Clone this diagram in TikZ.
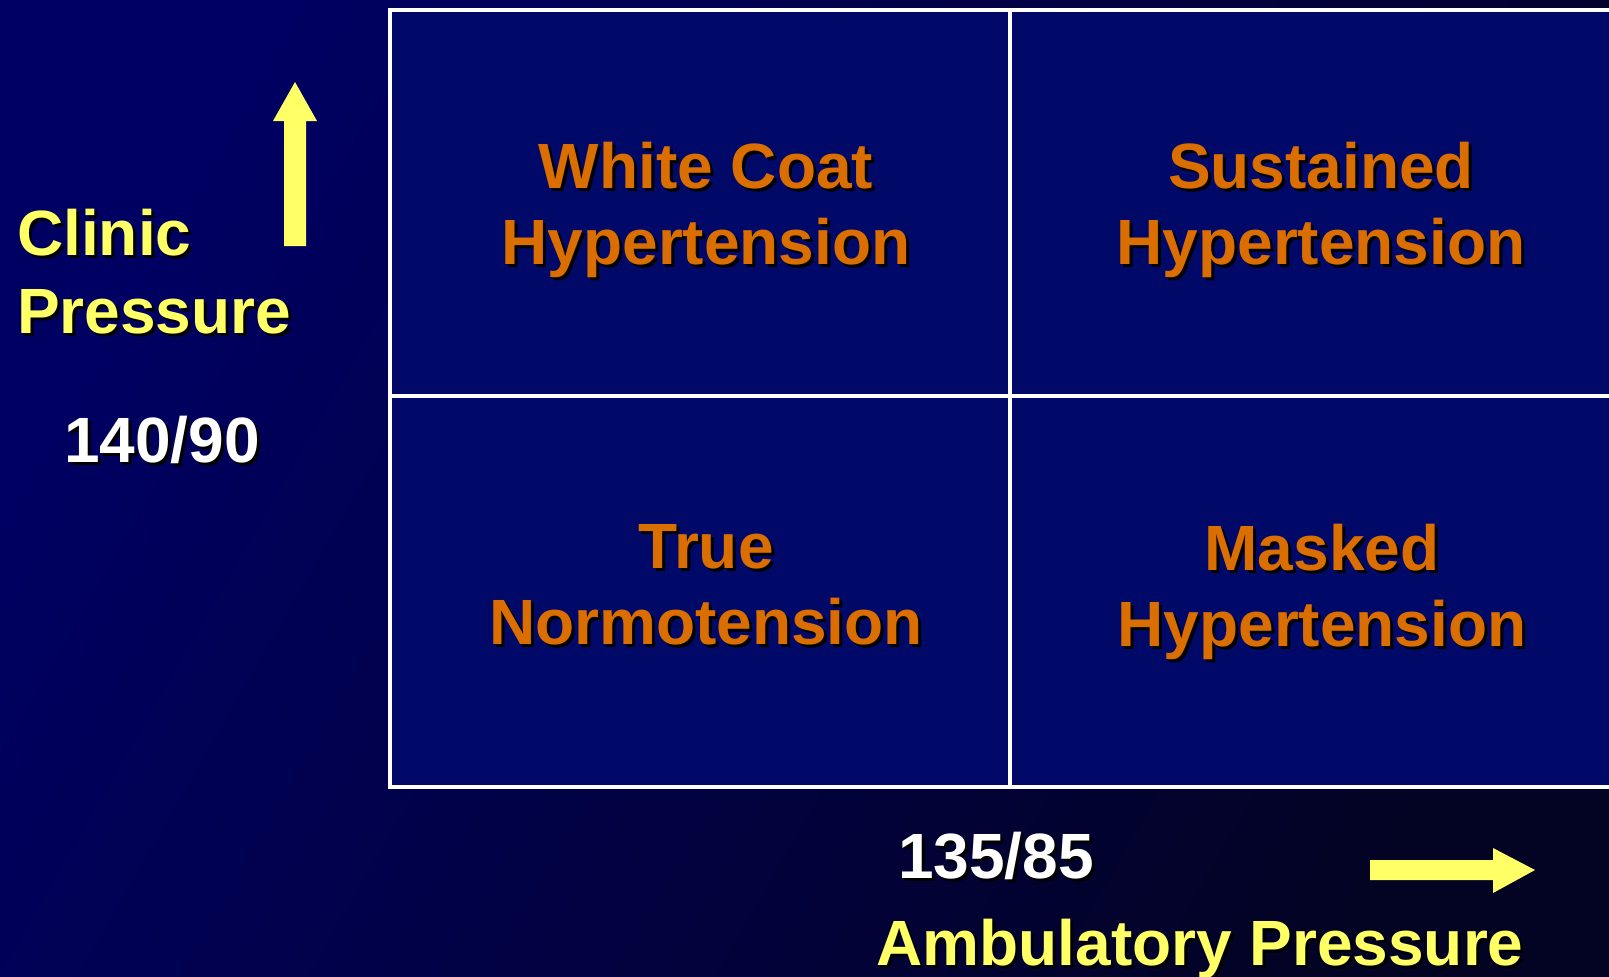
\documentclass[tikz,border=0pt]{standalone}
\usepackage{fontspec}
\setmainfont{Liberation Sans}

\definecolor{bgA}{RGB}{0,0,98}
\definecolor{bgB}{RGB}{3,3,36}
\definecolor{cellfill}{RGB}{0,8,104}
\definecolor{labelorange}{RGB}{218,110,0}
\definecolor{axisyellow}{RGB}{255,255,102}

% text with a small black drop shadow, one line at a time
\newcommand\shtext[1]{\makebox[0pt][l]{\kern3pt\raisebox{-3pt}{\color{black}#1}}#1}

\begin{document}
\begin{tikzpicture}[x=1pt,y=-1pt,
  bigfont/.style={font=\fontsize{64}{76}\selectfont\bfseries, inner sep=0pt},
  cell/.style={bigfont, text=labelorange, align=center, anchor=north},
  axislabel/.style={bigfont, text=axisyellow},
  threshold/.style={bigfont, text=white, anchor=base},
  gridline/.style={draw=white, line width=3.2pt},
  arrowshape/.style={fill=axisyellow}]

\useasboundingbox (0,0) rectangle (1609,977);
\begin{scope}
\clip (0,0) rectangle (1609,977);

% background
\shade[top color=bgA, bottom color=bgB, shading angle=60] (0,0) rectangle (1609,977);

% 2x2 grid
\coordinate (gtl) at (390,10);
\coordinate (gbr) at (1650,787);
\fill[cellfill] (gtl) rectangle (gbr);
\draw[gridline, line width=4pt] (gtl) rectangle (gbr);
\draw[gridline] (1010,10) -- (1010,787);
\draw[gridline] (390,396) -- (1650,396);
\end{scope}

% quadrant labels
\node[cell] (wch) at (706,142) {\shtext{White Coat}\\\shtext{Hypertension}};
\node[cell] (sh)  at (1321,142) {\shtext{Sustained}\\\shtext{Hypertension}};
\node[cell] (tn)  at (706,524) {\shtext{True}\\\shtext{Normotension}};
\node[cell] (mh)  at (1322,524) {\shtext{Masked}\\\shtext{Hypertension}};

% vertical axis
\node[axislabel, align=left, anchor=north west,
      font=\fontsize{64}{78}\selectfont\bfseries] (clinic) at (17,209)
      {\shtext{Clinic}\\\shtext{Pressure}};
\node[threshold] (clinicval) at (162,462) {\shtext{140/90}};
\fill[arrowshape] (284,246) -- (306,246) -- (306,121) -- (317,121) -- (295,82)
                  -- (273,121) -- (284,121) -- cycle;

% horizontal axis
\node[threshold] (ambval) at (996,878) {\shtext{135/85}};
\node[axislabel, anchor=base] (amb) at (1200,965) {\shtext{Ambulatory Pressure}};
\fill[arrowshape] (1370,860) -- (1493,860) -- (1493,848) -- (1535,870)
                  -- (1493,893) -- (1493,880) -- (1370,880) -- cycle;

\end{tikzpicture}
\end{document}
